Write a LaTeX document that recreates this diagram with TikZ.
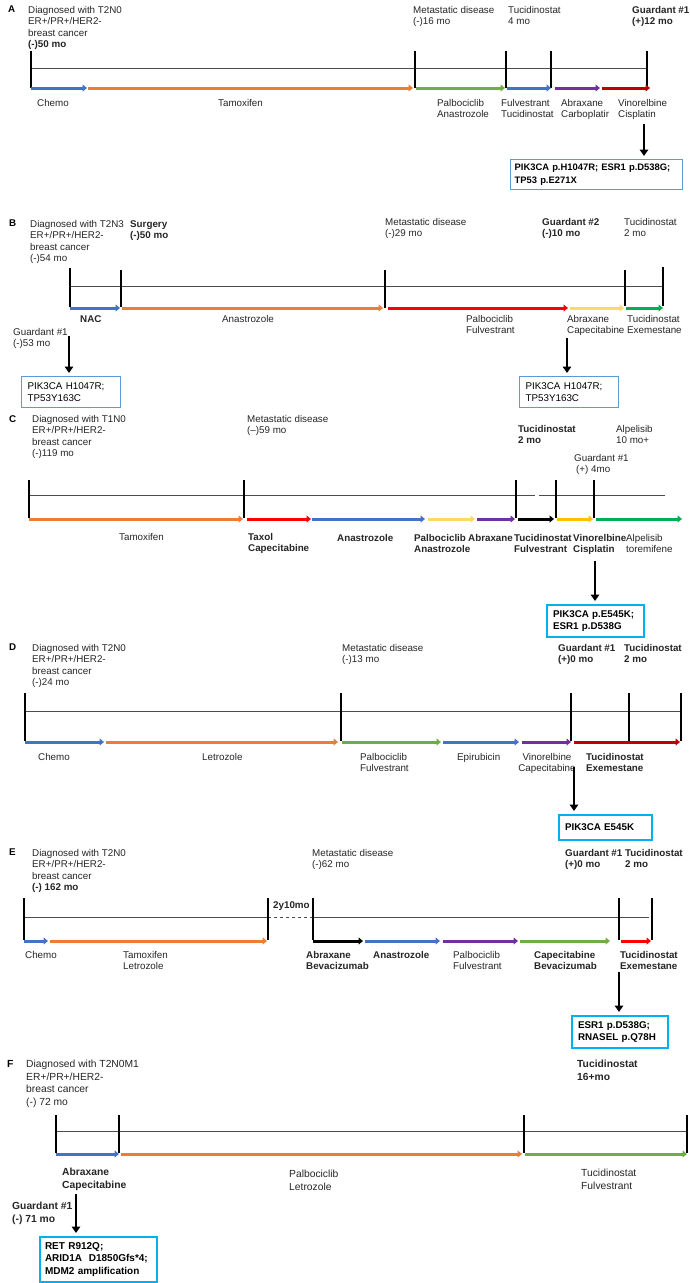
\documentclass[tikz,border=0pt]{standalone}
\usepackage{fontspec}
\setmainfont{Liberation Sans}
\usetikzlibrary{arrows.meta}
\definecolor{cblue}{HTML}{4472C4}
\definecolor{corange}{HTML}{ED7D31}
\definecolor{cgreen}{HTML}{70AD47}
\definecolor{cgreenb}{HTML}{00B050}
\definecolor{cpurple}{HTML}{7030A0}
\definecolor{cred}{HTML}{C00000}
\definecolor{credb}{HTML}{FF0000}
\definecolor{cyellow}{HTML}{FFD966}
\definecolor{cgold}{HTML}{FFC000}
\definecolor{boxblue}{HTML}{5B9BD5}
\definecolor{boxcyan}{HTML}{00B0F0}
\definecolor{txt}{HTML}{262626}
\tikzset{
 lbl/.style={anchor=north west, inner sep=0pt, align=left, font=\fontsize{9.8}{11.4}\selectfont, text=txt},
 blbl/.style={lbl, font=\fontsize{9.8}{11.4}\selectfont\bfseries},
 flbl/.style={lbl, font=\fontsize{10.3}{12.6}\selectfont},
 fblbl/.style={lbl, font=\fontsize{10.3}{12.6}\selectfont\bfseries},
 panel/.style={anchor=north west, inner sep=0pt, font=\fontsize{9.8}{11.4}\selectfont\bfseries},
 tick/.style={line width=1.5pt, black},
 axis/.style={line width=0.8pt, black!70},
 tl/.style={line width=3pt, -{Triangle[length=4.5pt,width=7pt]}},
 garrow/.style={line width=2.6pt, -{Triangle[length=6.5pt,width=8.5pt]}, black, shorten >=3pt},
 mboxA/.style={draw=boxblue, line width=1.3pt, anchor=north west, inner xsep=6pt, inner ysep=0pt, align=left, text=black, font=\fontsize{9.8}{11.8}\selectfont},
 mboxC/.style={draw=boxcyan, line width=2pt, anchor=north west, inner xsep=6pt, inner ysep=0pt, align=left, text=black, font=\fontsize{9.8}{12.4}\selectfont\bfseries},
}
\begin{document}
\begin{tikzpicture}[x=1pt,y=-1pt]
\useasboundingbox (0,0) rectangle (689,1283);
\fill[white] (0,0) rectangle (689,1283);

%% ================= Panel A
\node[panel] (pA) at (8,6) {A};
\node[lbl] (dA) at (28,6) {Diagnosed with T2N0\\ER+/PR+/HER2-\\breast cancer\\\textbf{(-)50 mo}};
\node[lbl] (mA) at (413,6) {Metastatic disease\\(-)16 mo};
\node[lbl] (tA) at (508,6) {Tucidinostat\\4 mo};
\node[blbl] (gA) at (632,6) {Guardant \#1\\(+)12 mo};
\draw[axis] (31,68) -- (647,68);
\foreach \x in {31,415,506,551,647} \draw[tick] (\x,51) -- (\x,88);
\draw[tl,cblue] (31,88) -- (87,88);
\draw[tl,corange] (88,88) -- (413,88);
\draw[tl,cgreen] (416,88) -- (505,88);
\draw[tl,cblue] (507,88) -- (551,88);
\draw[tl,cpurple] (555,88) -- (600,88);
\draw[tl,cred] (602,88) -- (650,88);
\node[lbl] (a1) at (37,99) {Chemo};
\node[lbl] (a2) at (218,99) {Tamoxifen};
\node[lbl] (a3) at (437,99) {Palbociclib\\Anastrozole};
\node[lbl] (a4) at (501,99) {Fulvestrant\\Tucidinostat};
\node[lbl] (a5) at (561,99) {Abraxane\\Carboplatir};
\node[lbl] (a6) at (618,99) {Vinorelbine\\Cisplatin};
\node[mboxA, font=\fontsize{9.4}{12.6}\selectfont\bfseries, minimum width=172pt, minimum height=30pt, text width=164pt, inner xsep=4pt] (bA) at (510,159) {PIK3CA p.H1047R; ESR1 p.D538G;\\TP53 p.E271X};
\coordinate (sA) at (644,124);
\draw[garrow] (sA) -- (sA |- bA.north);

%% ================= Panel B
\node[panel] (pB) at (9,220) {B};
\node[lbl] (dB) at (30,220) {Diagnosed with T2N3\\ER+/PR+/HER2-\\breast cancer\\(-)54 mo};
\node[blbl] (sgB) at (130,220) {Surgery\\(-)50 mo};
\node[lbl] (mB) at (385,218) {Metastatic disease\\(-)29 mo};
\node[blbl] (gB2) at (542,218) {Guardant \#2\\(-)10 mo};
\node[lbl] (tB) at (624,218) {Tucidinostat\\2 mo};
\draw[axis] (70,286) -- (663,286);
\draw[tick] (70,268) -- (70,307);
\draw[tick] (121,270) -- (121,307);
\draw[tick] (385,270) -- (385,308);
\draw[tick] (625,270) -- (625,306);
\draw[tick] (663,267) -- (663,306);
\draw[tl,cblue] (70,308) -- (120,308);
\draw[tl,corange] (122,308) -- (383,308);
\draw[tl,credb] (388,308) -- (568,308);
\draw[tl,cyellow] (570,308) -- (624,308);
\draw[tl,cgreenb] (626,308) -- (663,308);
\node[blbl] (b1) at (80,315) {NAC};
\node[lbl] (b2) at (222,315) {Anastrozole};
\node[lbl] (b3) at (466,315) {Palbociclib\\Fulvestrant};
\node[lbl] (b4) at (567,315) {Abraxane\\Capecitabine};
\node[lbl] (b5) at (627,315) {Tucidinostat\\Exemestane};
\node[lbl] (gB1) at (13,328) {Guardant \#1\\(-)53 mo};
\node[mboxA, minimum width=99pt, minimum height=31pt, text width=87pt] (bB1) at (21,376) {PIK3CA H1047R;\\TP53Y163C};
\node[mboxA, minimum width=99pt, minimum height=31pt, text width=87pt] (bB2) at (519,376) {PIK3CA H1047R;\\TP53Y163C};
\coordinate (sB1) at (69,336);
\coordinate (sB2) at (567,338);
\draw[garrow] (sB1) -- (sB1 |- bB1.north);
\draw[garrow] (sB2) -- (sB2 |- bB2.north);

%% ================= Panel C
\node[panel] (pC) at (9,415) {C};
\node[lbl] (dC) at (32,415) {Diagnosed with T1N0\\ER+/PR+/HER2-\\breast cancer\\(-)119 mo};
\node[lbl] (mC) at (247,415) {Metastatic disease\\(–)59 mo};
\node[blbl] (tC) at (518,425) {Tucidinostat\\2 mo};
\node[lbl] (alC) at (616,425) {Alpelisib\\10 mo+};
\node[lbl] (gC) at (574,454) {Guardant \#1\\\hspace*{2pt}(+) 4mo};
\draw[axis] (29,495) -- (535,495);
\draw[axis] (539,495) -- (665,495);
\foreach \x in {29,244,516,556,594} \draw[tick] (\x,480) -- (\x,518);
\draw[tl,corange] (29,519) -- (243,519);
\draw[tl,credb] (247,519) -- (311,519);
\draw[tl,cblue] (312,519) -- (425,519);
\draw[tl,cyellow] (428,519) -- (475,519);
\draw[tl,cpurple] (477,519) -- (515,519);
\draw[tl,black] (518,519) -- (554,519);
\draw[tl,cgold] (557,519) -- (593,519);
\draw[tl,cgreenb] (596,519) -- (682,519);
\node[lbl] (c1) at (119,533) {Tamoxifen};
\node[blbl] (c2) at (248,533) {Taxol\\Capecitabine};
\node[blbl] (c3) at (337,534) {Anastrozole};
\node[blbl] (c4) at (414,534) {Palbociclib\\Anastrozole};
\node[blbl] (c5) at (468,534) {Abraxane};
\node[blbl] (c6) at (514,534) {Tucidinostat\\Fulvestrant};
\node[blbl] (c7) at (573,534) {Vinorelbine\\Cisplatin};
\node[lbl] (c8) at (626,534) {Alpelisib\\toremifene};
\node[mboxC, minimum width=97pt, minimum height=32pt, text width=85pt] (bC) at (546,604) {PIK3CA p.E545K;\\ESR1 p.D538G};
\coordinate (sC) at (595,561);
\draw[garrow] (sC) -- (sC |- bC.north);

%% ================= Panel D
\node[panel] (pD) at (9,644) {D};
\node[lbl] (dD) at (32,644) {Diagnosed with T2N0\\ER+/PR+/HER2-\\breast cancer\\(-)24 mo};
\node[lbl] (mD) at (342,644) {Metastatic disease\\(-)13 mo};
\node[blbl] (gD) at (558,644) {Guardant \#1\\(+)0 mo};
\node[blbl] (tD) at (624,644) {Tucidinostat\\2 mo};
\draw[axis] (25,711) -- (681,711);
\foreach \x in {25,341,571,629,681} \draw[tick] (\x,693) -- (\x,741);
\draw[tl,cblue] (25,742) -- (104,742);
\draw[tl,corange] (106,742) -- (338,742);
\draw[tl,cgreen] (342,742) -- (441,742);
\draw[tl,cblue] (443,742) -- (519,742);
\draw[tl,cpurple] (522,742) -- (571,742);
\draw[tl,cred] (574,742) -- (680,742);
\node[lbl] (d1) at (38,753) {Chemo};
\node[lbl] (d2) at (202,753) {Letrozole};
\node[lbl] (d3) at (360,753) {Palbociclib\\Fulvestrant};
\node[lbl] (d4) at (457,753) {Epirubicin};
\node[lbl, anchor=north, align=center] (d5) at (547,753) {Vinorelbine\\Capecitabine};
\node[blbl] (d6) at (586,753) {Tucidinostat\\Exemestane};
\node[mboxC, minimum width=93pt, minimum height=25pt, text width=81pt] (bD) at (558,814) {PIK3CA E545K};
\coordinate (sD) at (574,767);
\draw[garrow] (sD) -- (sD |- bD.north);

%% ================= Panel E
\node[panel] (pE) at (9,849) {E};
\node[lbl] (dE) at (32,849) {Diagnosed with T2N0\\ER+/PR+/HER2-\\breast cancer\\\textbf{(-) 162 mo}};
\node[lbl] (mE) at (312,849) {Metastatic disease\\(-)62 mo};
\node[blbl] (gE) at (565,849) {Guardant \#1\\(+)0 mo};
\node[blbl] (tE) at (625,849) {Tucidinostat\\2 mo};
\draw[axis] (24,917) -- (268,917);
\draw[axis, dashed] (268,917) -- (313,917);
\draw[axis] (313,917) -- (649,917);
\foreach \x in {24,268,313,619,652} \draw[tick] (\x,898) -- (\x,940);
\node[blbl] (yE) at (273,901) {2y10mo};
\draw[tl,cblue] (24,941) -- (48,941);
\draw[tl,corange] (50,941) -- (267,941);
\draw[tl,black] (313,941) -- (363,941);
\draw[tl,cblue] (365,941) -- (440,941);
\draw[tl,cpurple] (443,941) -- (518,941);
\draw[tl,cgreen] (520,941) -- (610,941);
\draw[tl,credb] (621,941) -- (651,941);
\node[lbl] (e1) at (25,951) {Chemo};
\node[lbl] (e2) at (123,951) {Tamoxifen\\Letrozole};
\node[blbl] (e3) at (306,951) {Abraxane\\Bevacizumab};
\node[blbl] (e4) at (373,951) {Anastrozole};
\node[lbl] (e5) at (453,951) {Palbociclib\\Fulvestrant};
\node[blbl] (e6) at (534,951) {Capecitabine\\Bevacizumab};
\node[blbl] (e7) at (620,951) {Tucidinostat\\Exemestane};
\node[mboxC, minimum width=96pt, minimum height=32pt, text width=84pt] (bE) at (571,1015) {ESR1 p.D538G;\\RNASEL p.Q78H};
\coordinate (sE) at (619,972);
\draw[garrow] (sE) -- (sE |- bE.north);

%% ================= Panel F
\node[panel, font=\fontsize{10.3}{12.6}\selectfont\bfseries] (pF) at (7,1060) {F};
\node[flbl] (dF) at (26,1060) {Diagnosed with T2N0M1\\ER+/PR+/HER2-\\breast cancer\\(-) 72 mo};
\node[fblbl] (tF) at (577,1060) {Tucidinostat\\16+mo};
\draw[axis] (56,1131) -- (687,1131);
\foreach \x in {56,119,524,687} \draw[tick] (\x,1115) -- (\x,1153);
\draw[tl,cblue] (56,1154) -- (119,1154);
\draw[tl,corange] (121,1154) -- (522,1154);
\draw[tl,cgreen] (525,1154) -- (687,1154);
\node[fblbl] (f1) at (62,1168) {Abraxane\\Capecitabine};
\node[flbl] (f2) at (289,1170) {Palbociclib\\Letrozole};
\node[flbl] (f3) at (581,1169) {Tucidinostat\\Fulvestrant};
\node[fblbl] (gF) at (12,1202) {Guardant \#1\\(-) 71 mo};
\node[mboxC, font=\fontsize{10}{12.6}\selectfont\bfseries, minimum width=117pt, minimum height=45pt, text width=107pt, inner xsep=5pt] (bF) at (39,1236) {RET R912Q;\\ARID1A\ \ D1850Gfs*4;\\MDM2 amplification};
\coordinate (sF) at (76,1194);
\draw[garrow] (sF) -- (sF |- bF.north);
\end{tikzpicture}
\end{document}
